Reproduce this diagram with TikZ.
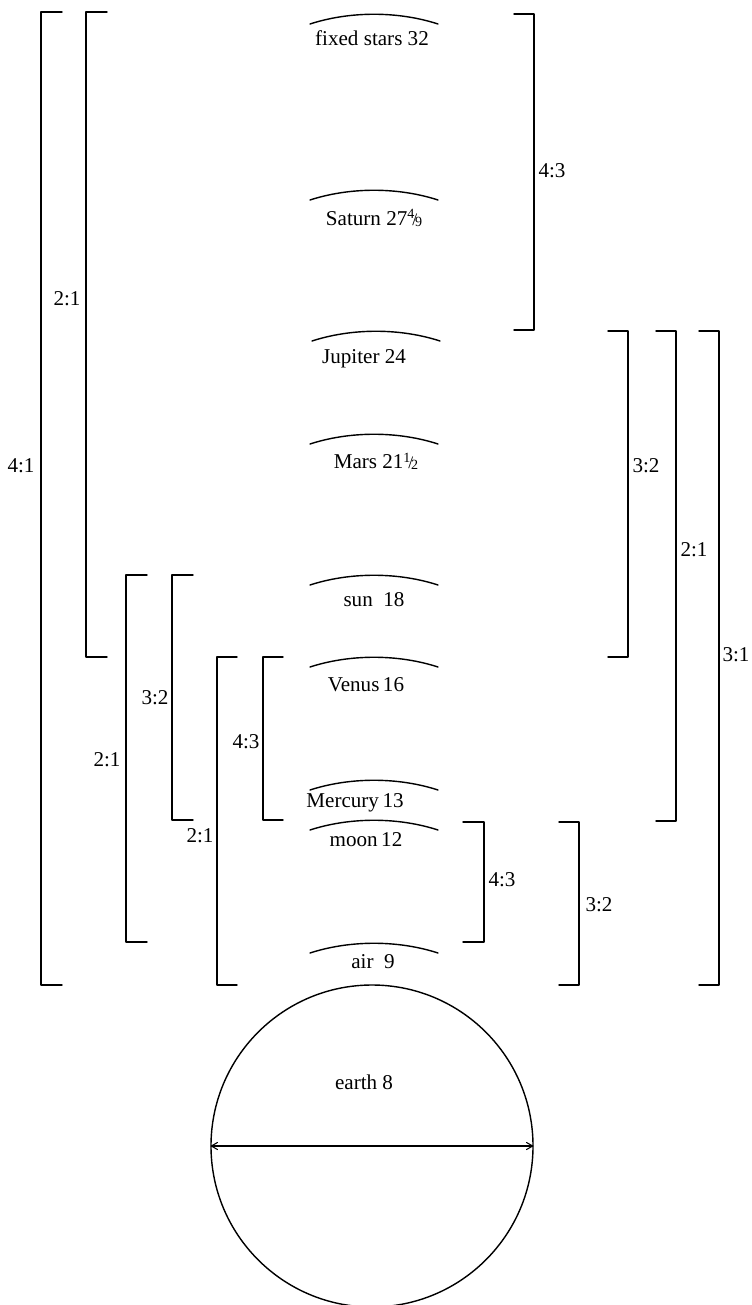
\documentclass[tikz,border=0pt]{standalone}
\usepackage{fontspec}
\setmainfont{Liberation Serif}
\usetikzlibrary{arrows}
\newcommand{\frc}[2]{\raisebox{0.65ex}{\fontsize{8}{9}\selectfont#1}\kern-0.1em{\fontsize{10}{9}\selectfont/}\kern-0.1em\raisebox{-0.1ex}{\fontsize{8}{9}\selectfont#2}}

\begin{document}
\begin{tikzpicture}[line cap=round,line join=round,x=0.2mm,y=-0.2mm,line width=0.8pt,
	font=\fontsize{12}{14}\selectfont]
		\useasboundingbox (0,0) rectangle (751,1305);
		% spheres
		\draw (310,24) .. controls (350,11) and (398,11) .. (438,24);
		\node (fixed) at (372,38) {fixed stars 32};
		\draw (310,200) .. controls (350,187) and (398,187) .. (438,200);
		\node (saturn) at (374,218) {Saturn 27\frc{4}{9}};
		\draw (312,341) .. controls (352,328) and (400,328) .. (440,341);
		\node (jupiter) at (364,359) {Jupiter 24};
		\draw (310,444) .. controls (350,431) and (398,431) .. (438,444);
		\node (mars) at (376,461) {Mars 21\frc{1}{2}};
		\draw (310,585) .. controls (350,572) and (398,572) .. (438,585);
		\node (sun) at (374,600) {sun\ \ 18};
		\draw (310,667) .. controls (350,654) and (398,654) .. (438,667);
		\node (venus) at (366,685) {Venus\,16};
		\draw (310,790) .. controls (350,777) and (398,777) .. (438,790);
		\node (mercury) at (355,803) {Mercury\,13};
		\draw (310,830) .. controls (350,817) and (398,817) .. (438,830);
		\node (moon) at (366,840) {moon\,12};
		\draw (310,953) .. controls (350,940) and (398,940) .. (438,953);
		\node (air) at (373,962) {air\ \ 9};
		% earth
		\node[draw,circle,minimum size=64.4mm,inner sep=0pt] (earth) at (372,1146) {};
		\draw[<->,>=angle 60,line width=0.6pt] (earth.west) -- (earth.east);
		\node (earthlbl) at (364,1082) {earth 8};
		% left brackets
		\draw (62,12) -- (41,12) -- (41,985) -- (62,985);
		\node (l41) at (21,466) {4:1};
		\draw (107,12) -- (86,12) -- (86,657) -- (107,657);
		\node (l21a) at (67,299) {2:1};
		\draw (147,575) -- (126,575) -- (126,942) -- (147,942);
		\node (l21b) at (107,760) {2:1};
		\draw (193,575) -- (172,575) -- (172,820) -- (193,820);
		\node (l32) at (155,698) {3:2};
		\draw (237,657) -- (217,657) -- (217,985) -- (237,985);
		\node (l21c) at (200,836) {2:1};
		\draw (283,657) -- (263,657) -- (263,820) -- (283,820);
		\node (l43) at (246,742) {4:3};
		% right brackets
		\draw (514,14) -- (534,14) -- (534,330) -- (514,330);
		\node (r43a) at (552,171) {4:3};
		\draw (608,331) -- (628,331) -- (628,657) -- (608,657);
		\node (r32a) at (646,466) {3:2};
		\draw (656,331) -- (676,331) -- (676,821) -- (656,821);
		\node (r21) at (694,550) {2:1};
		\draw (699,331) -- (719,331) -- (719,985) -- (699,985);
		\node (r31) at (736,655) {3:1};
		\draw (463,822) -- (484,822) -- (484,942) -- (463,942);
		\node (r43b) at (502,880) {4:3};
		\draw (559,822) -- (579,822) -- (579,985) -- (559,985);
		\node (r32b) at (599,905) {3:2};
	\end{tikzpicture}
\end{document}
